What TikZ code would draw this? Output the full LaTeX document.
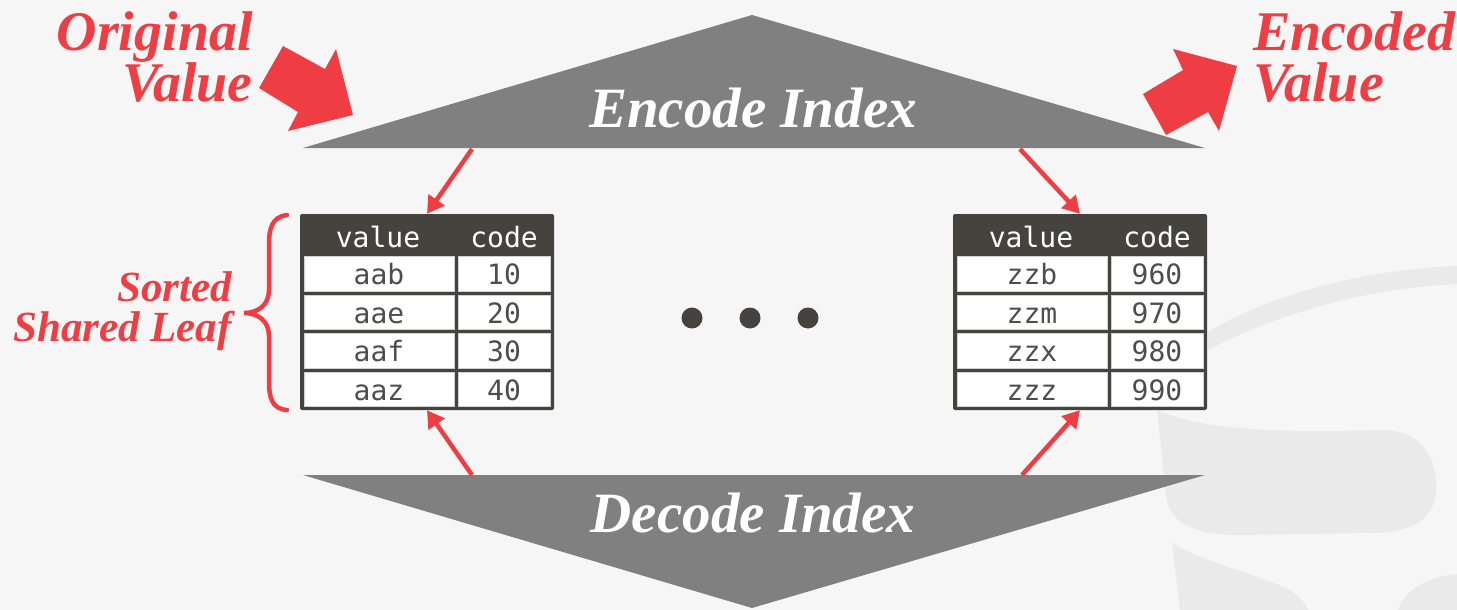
\documentclass[tikz,border=0pt]{standalone}
\usepackage{fontspec}
\usetikzlibrary{arrows.meta}
\newfontfamily\slidefont{Liberation Serif}
\newfontfamily\cellfont{DejaVu Sans Mono}
\definecolor{slidebg}{HTML}{F6F6F6}
\definecolor{markred}{HTML}{EE3E44}
\definecolor{indexgray}{HTML}{808080}
\definecolor{tabledark}{HTML}{45433E}
\definecolor{celltext}{HTML}{4D4D4D}
\definecolor{watermark}{HTML}{EAEAEA}
\tikzset{
  callout/.style={font=\slidefont\bfseries\itshape\fontsize{56}{51}\selectfont,
    text=markred, inner sep=0pt},
  indextext/.style={font=\slidefont\bfseries\itshape\fontsize{57}{60}\selectfont,
    text=white, inner sep=0pt},
  tablebox/.style={rectangle, fill=tabledark, rounded corners=2pt, inner sep=0pt,
    minimum width=254pt, minimum height=196pt},
  headcell/.style={font=\cellfont\fontsize{28}{30}\selectfont, text=white,
    inner sep=0pt, text height=21pt, text depth=0pt},
  cellbox/.style={rectangle, fill=white, draw=black!18, line width=0.8pt,
    font=\cellfont\fontsize{28}{30}\selectfont, text=celltext, inner sep=0pt,
    text height=21pt, text depth=0pt, minimum height=34.5pt},
  valcell/.style={cellbox, minimum width=150pt},
  codecell/.style={cellbox, minimum width=92pt},
  link/.style={draw=markred, line width=4.5pt,
    -{Triangle[length=17pt,width=19pt]}},
  blockarrow/.style={fill=markred},
  ellipsisdot/.style={circle, fill=tabledark, minimum size=21pt, inner sep=0pt},
}
% one leaf table: #1 name, #2 left edge, #3 rows value/code
\newcommand\leaftable[3]{%
  \node[tablebox] (#1) at ({#2+127},312) {};
  \node[headcell] (#1-hv) at ({#2+78},236.5) {value};
  \node[headcell] (#1-hc) at ({#2+204},236.5) {code};
  \foreach \v/\c [count=\i] in {#3} {
    \node[valcell] (#1-v\i) at ({#2+79},{274+(\i-1)*38.5}) {\v};
    \node[codecell] (#1-c\i) at ({#2+204},{274+(\i-1)*38.5}) {\c};
  }%
}
\begin{document}
\begin{tikzpicture}[x=1pt,y=-1pt]
\useasboundingbox (0,0) rectangle (1457,610);
\fill[slidebg] (0,0) rectangle (1457,610);

% faint logo in the background
\begin{scope}[fill=watermark]
  \fill (1208,350) .. controls (1280,312) and (1370,288) .. (1457,284)
        -- (1457,266) .. controls (1360,270) and (1270,295) .. (1208,332) -- cycle;
  \fill (1157,410) .. controls (1200,430) and (1280,433) .. (1380,430)
        .. controls (1430,430) and (1437,468) .. (1436,490)
        .. controls (1435,520) and (1410,533) .. (1370,533)
        -- (1240,535) .. controls (1190,535) and (1168,520) .. (1166,495) -- cycle;
  \fill (1172,542) .. controls (1195,560) and (1260,575) .. (1290,590)
        .. controls (1300,597) and (1305,603) .. (1308,610) -- (1180,610) -- cycle;
  \fill (1398,610) .. controls (1405,590) and (1425,578) .. (1457,574)
        -- (1457,610) -- cycle;
\end{scope}

% index triangles
\fill[indexgray] (303,148) -- (752,15) -- (1205,148) -- cycle;
\fill[indexgray] (303,475) -- (1205,475) -- (752,608) -- cycle;
\node[indextext, anchor=base] (encode) at (753,127) {Encode Index};
\node[indextext, anchor=base] (decode) at (753,532) {Decode Index};

% sorted shared leaves
\leaftable{ltab}{300}{aab/10, aae/20, aaf/30, aaz/40}
\leaftable{rtab}{953}{zzb/960, zzm/970, zzx/980, zzz/990}

\node[ellipsisdot] (dot1) at (692,318) {};
\node[ellipsisdot] (dot2) at (750,318) {};
\node[ellipsisdot] (dot3) at (808,318) {};

% pointers between indexes and leaves
\coordinate (enc-l) at (472,149);
\coordinate (enc-r) at (1020,149);
\coordinate (dec-l) at (472,475);
\coordinate (dec-r) at (1022,475);
\draw[link] (enc-l) -- (ltab.north);
\draw[link] (enc-r) -- (rtab.north);
\draw[link] (dec-l) -- (ltab.south);
\draw[link] (dec-r) -- (rtab.south);

% callouts
\node[callout, align=right, anchor=north east] (orig) at (253,11) {Original\\Value};
\node[callout, align=left, anchor=north west] (encval) at (1253,11) {Encoded\\Value};
\fill[blockarrow] (283,46) -- (325,69) -- (336,49) -- (353,115) -- (288,131)
  -- (298,112) -- (259,88) -- cycle;
\fill[blockarrow] (1173,49) -- (1183,70) -- (1143,94) -- (1166,135) -- (1208,112)
  -- (1219,131) -- (1237,66) -- cycle;

\node[callout, font=\slidefont\bfseries\itshape\fontsize{43}{40}\selectfont,
  align=right, anchor=north east] (leaf) at (232,271) {Sorted\\Shared Leaf};
\draw[markred, line width=4.5pt, line cap=round]
  (287,215) .. controls (272,217) and (269,228) .. (269,245) -- (269,290)
  .. controls (269,305) and (258,313) .. (244,313)
  .. controls (258,313) and (269,321) .. (269,336) -- (269,381)
  .. controls (269,398) and (272,409) .. (287,410);
\end{tikzpicture}
\end{document}
